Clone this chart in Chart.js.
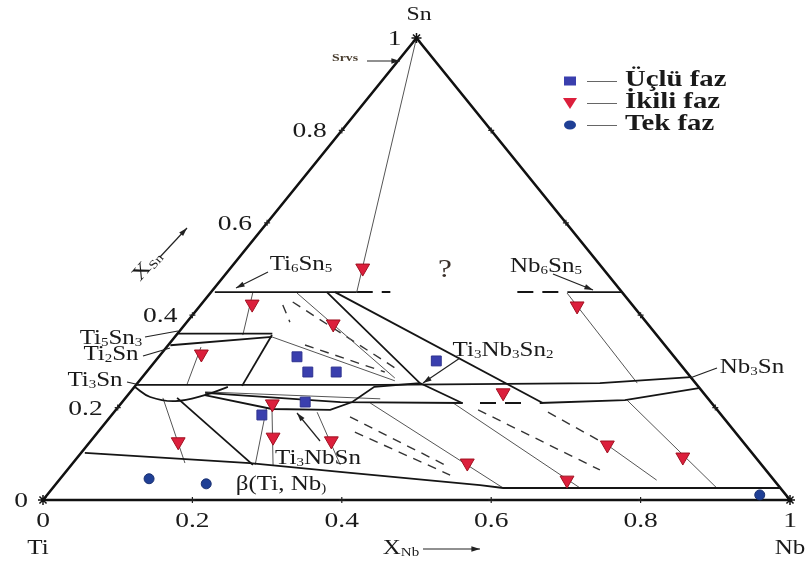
<!DOCTYPE html>
<html>
<head>
<meta charset="utf-8">
<script src="https://cdn.jsdelivr.net/npm/chart.js@4.4.1/dist/chart.umd.min.js"></script>
<style>
  html, body { margin: 0; background: #fff; }
</style>
</head>
<body>
<canvas id="phaseChart" width="808" height="563"></canvas>
<script>
// every point is a composition [xNb, xSn]
const corners = [[0, 0], [1, 0], [0, 1]];
const ternaryPhase = [[0.185, 0.31], [0.216, 0.277], [0.254, 0.277], [0.376, 0.301], [0.245, 0.212], [0.201, 0.184]];
const binaryPhase = [[0.177, 0.502], [0.068, 0.424], [0.198, 0.381], [0.054, 0.316], [0.505, 0.42], [0.50, 0.232],
  [0.203, 0.208], [0.118, 0.126], [0.240, 0.136], [0.322, 0.128], [0.528, 0.080], [0.680, 0.043], [0.696, 0.119], [0.810, 0.093]];
const singlePhase = [[0.119, 0.046], [0.201, 0.035], [0.954, 0.011]];

const boundaryLines = [
  [[0.005, 0.45], [0.195, 0.45]],
  [[0.477, 0.45], [0.55, 0.45]],
  [[0.001, 0.36], [0.127, 0.36]],
  [[0.003, 0.335], [0.13, 0.353]],
  [[0, 0.249], [0.327, 0.249], [0.619, 0.253], [0.734, 0.266]],
  [[0.103, 0.227], [0.208, 0.197], [0.287, 0.195], [0.308, 0.212], [0.321, 0.245], [0.378, 0.253]],
  [[0.101, 0.232], [0.292, 0.212], [0.457, 0.21]],
  [[0.56, 0.21], [0.671, 0.216], [0.757, 0.242]],
  [[0.166, 0.45], [0.564, 0.21]],
  [[0.155, 0.45], [0.378, 0.253], [0.456, 0.21]],
  [[0.005, 0.102], [0.237, 0.08], [0.367, 0.061], [0.569, 0.032], [0.603, 0.026], [0.974, 0.026]],
  [[0.069, 0.221], [0.243, 0.076]],
  [[0.128, 0.357], [0.143, 0.247]]
];
const lensLine = [[0, 0.245], [0.032, 0.223], [0.07, 0.214], [0.103, 0.227], [0.125, 0.245]];

const tieLines = [
  [[0, 1], [0.195, 0.45]],
  [[0.056, 0.45], [0.089, 0.357]],
  [[0.046, 0.331], [0.068, 0.249]],
  [[0.05, 0.221], [0.15, 0.08]],
  [[0.199, 0.201], [0.246, 0.076]],
  [[0.206, 0.201], [0.271, 0.074]],
  [[0.272, 0.19], [0.36, 0.076]],
  [[0.333, 0.21], [0.603, 0.026]],
  [[0.444, 0.21], [0.706, 0.026]],
  [[0.4775, 0.448], [0.669, 0.253]],
  [[0.674, 0.216], [0.889, 0.026]],
  [[0.696, 0.119], [0.80, 0.043]],
  [[0.116, 0.448], [0.339, 0.264]],
  [[0.13, 0.353], [0.342, 0.258]],
  [[0.1, 0.234], [0.342, 0.219]]
];

const dashedBoundaries = [
  [[0.195, 0.45], [0.24, 0.45]],
  [[0.41, 0.45], [0.477, 0.45]],
  [[0.48, 0.21], [0.54, 0.21]]
];
const dashedTies = [
  [[0.12, 0.4286], [0.328, 0.286]],
  [[0.183, 0.3355], [0.319, 0.277]],
  [[0.321, 0.18], [0.5, 0.076]],
  [[0.344, 0.147], [0.518, 0.054]],
  [[0.485, 0.195], [0.713, 0.065]],
  [[0.581, 0.19], [0.696, 0.119]],
  [[0.11, 0.422], [0.138, 0.385]]
];

const axisTicks = [0, 0.2, 0.4, 0.6, 0.8, 1];
const axisLabels = ['0', '0.2', '0.4', '0.6', '0.8', '1'];
const legendNames = ['Üçlü faz', 'İkili faz', 'Tek faz'];

const SERIF = '"Liberation Serif", "Times New Roman", serif';
const tern = p => ({ x: p[0] + p[1] / 2, y: p[1] });

function lineSet(pts, width, color, dash, tension) {
  return {
    data: pts.map(tern),
    showLine: true,
    borderColor: color,
    borderWidth: width,
    borderDash: dash || [],
    tension: tension || 0,
    pointRadius: 0,
    clip: false
  };
}

const datasets = [
  { data: ternaryPhase.map(tern), pointStyle: 'rect', pointRadius: 7, backgroundColor: '#3a3fae', borderColor: '#2e3290', borderWidth: 1, clip: false },
  { data: binaryPhase.map(tern), pointStyle: 'triangle', pointRotation: 180, pointRadius: 8, backgroundColor: '#dc1f3c', borderColor: '#a0101f', borderWidth: 1, clip: false },
  { data: singlePhase.map(tern), pointStyle: 'circle', pointRadius: 5, backgroundColor: '#1f3f95', borderColor: '#1a3070', borderWidth: 1, clip: false },
  { data: corners.map(tern), pointStyle: 'star', pointRadius: 5, borderColor: '#111', borderWidth: 1.5, clip: false },
  {
    data: axisTicks.slice(1, 5).flatMap(t => [[0, t], [1 - t, t], [t, 0]]).map(tern),
    pointStyle: 'cross', pointRadius: 3, borderColor: '#222', borderWidth: 1.2, clip: false
  },
  lineSet(corners.concat([corners[0]]), 2.6, '#111')
];
boundaryLines.forEach(l => datasets.push(lineSet(l, 1.8, '#151515')));
datasets.push(lineSet(lensLine, 1.8, '#151515', null, 0.4));
tieLines.forEach(l => datasets.push(lineSet(l, 1, '#555')));
dashedBoundaries.forEach(l => datasets.push(lineSet(l, 2, '#151515', [16, 9])));
dashedTies.forEach(l => datasets.push(lineSet(l, 1.4, '#333', [9, 7])));

function drawText(ctx, parts, x, y, size, align, opts) {
  opts = opts || {};
  ctx.save();
  ctx.translate(x, y);
  if (opts.rotate) ctx.rotate(opts.rotate);
  ctx.scale(1.25, 1);
  ctx.fillStyle = opts.color || '#1a1a1a';
  ctx.textBaseline = 'alphabetic';
  ctx.textAlign = 'left';
  const weight = opts.bold ? 'bold ' : '';
  let w = 0;
  parts.forEach(p => {
    ctx.font = weight + (p[1] ? Math.round(size * 0.62) : size) + 'px ' + SERIF;
    w += ctx.measureText(p[0]).width;
  });
  let cx = align === 'center' ? -w / 2 : align === 'right' ? -w : 0;
  parts.forEach(p => {
    ctx.font = weight + (p[1] ? Math.round(size * 0.62) : size) + 'px ' + SERIF;
    ctx.fillText(p[0], cx, p[1] ? size * 0.12 : 0);
    cx += ctx.measureText(p[0]).width;
  });
  ctx.restore();
}

function arrow(ctx, x1, y1, x2, y2, head) {
  ctx.save();
  ctx.strokeStyle = '#222';
  ctx.fillStyle = '#222';
  ctx.lineWidth = 1.2;
  ctx.beginPath();
  ctx.moveTo(x1, y1);
  ctx.lineTo(x2, y2);
  ctx.stroke();
  if (head) {
    const a = Math.atan2(y2 - y1, x2 - x1);
    ctx.beginPath();
    ctx.moveTo(x2, y2);
    ctx.lineTo(x2 - 9 * Math.cos(a - 0.3), y2 - 9 * Math.sin(a - 0.3));
    ctx.lineTo(x2 - 9 * Math.cos(a + 0.3), y2 - 9 * Math.sin(a + 0.3));
    ctx.closePath();
    ctx.fill();
  }
  ctx.restore();
}

const annotations = {
  id: 'annotations',
  afterDatasetsDraw(chart) {
    const ctx = chart.ctx;
    const xs = chart.scales.x, ys = chart.scales.y;

    // tick labels along Ti-Sn edge and Ti-Nb edge
    axisTicks.forEach((t, i) => {
      const lx = xs.getPixelForValue(t / 2), ly = ys.getPixelForValue(t);
      drawText(ctx, [[axisLabels[i], 0]], lx - 15, ly + 7, 22, 'right');
      const bx = xs.getPixelForValue(t);
      drawText(ctx, [[axisLabels[i], 0]], bx, 527, 22, 'center');
    });

    drawText(ctx, [['Sn', 0]], 419, 20, 19, 'center');
    drawText(ctx, [['Ti', 0]], 38, 554, 20, 'center');
    drawText(ctx, [['Nb', 0]], 790, 554, 20, 'center');
    drawText(ctx, [['X', 0], ['Nb', 1]], 401, 554, 20, 'center');
    arrow(ctx, 423, 549, 480, 549, true);
    drawText(ctx, [['X', 0], ['Sn', 1]], 140, 282, 20, 'left', { rotate: -0.85 });
    arrow(ctx, 160, 257, 187, 228, true);

    drawText(ctx, [['Srvs', 0]], 345, 61, 11, 'center', { bold: true, color: '#4a3e30' });
    arrow(ctx, 367, 61, 400, 61, true);

    drawText(ctx, [['Ti', 0], ['6', 1], ['Sn', 0], ['5', 1]], 301, 270, 20, 'center');
    arrow(ctx, 268, 272, 236, 288, true);
    drawText(ctx, [['?', 0]], 445, 277, 25, 'center', { color: '#3a302a' });
    drawText(ctx, [['Nb', 0], ['6', 1], ['Sn', 0], ['5', 1]], 546, 272, 20, 'center');
    arrow(ctx, 553, 274, 593, 290, true);

    drawText(ctx, [['Ti', 0], ['5', 1], ['Sn', 0], ['3', 1]], 111, 344, 20, 'center');
    arrow(ctx, 145, 337, 178, 331, false);
    drawText(ctx, [['Ti', 0], ['2', 1], ['Sn', 0]], 111, 360, 20, 'center');
    arrow(ctx, 143, 356, 170, 348, false);
    drawText(ctx, [['Ti', 0], ['3', 1], ['Sn', 0]], 95, 386, 20, 'center');
    arrow(ctx, 127, 382, 140, 385, false);

    drawText(ctx, [['Ti', 0], ['3', 1], ['Nb', 0], ['3', 1], ['Sn', 0], ['2', 1]], 503, 356, 20, 'center');
    arrow(ctx, 460, 358, 423, 383, true);
    drawText(ctx, [['Nb', 0], ['3', 1], ['Sn', 0]], 752, 373, 20, 'center');
    arrow(ctx, 717, 368, 690, 378, false);
    drawText(ctx, [['Ti', 0], ['3', 1], ['Nb', 0], ['Sn', 0]], 318, 464, 20, 'center');
    arrow(ctx, 320, 441, 297, 413, true);
    drawText(ctx, [['β(Ti, Nb', 0], [')', 1]], 281, 490, 20, 'center');

    // legend
    const rows = [86, 108, 130];
    rows.forEach((by, i) => {
      const cy = by - 5;
      ctx.save();
      if (i === 0) {
        ctx.fillStyle = '#3a3fae';
        ctx.fillRect(564, cy - 4.5, 12, 9);
      } else if (i === 1) {
        ctx.fillStyle = '#dc1f3c';
        ctx.beginPath();
        ctx.moveTo(563, cy - 5);
        ctx.lineTo(577, cy - 5);
        ctx.lineTo(570, cy + 6);
        ctx.closePath();
        ctx.fill();
      } else {
        ctx.fillStyle = '#1f3f95';
        ctx.beginPath();
        ctx.ellipse(570, cy, 6, 4.5, 0, 0, Math.PI * 2);
        ctx.fill();
      }
      ctx.strokeStyle = '#666';
      ctx.lineWidth = 1;
      ctx.beginPath();
      ctx.moveTo(587, cy + 0.5);
      ctx.lineTo(617, cy + 0.5);
      ctx.stroke();
      ctx.restore();
      drawText(ctx, [[legendNames[i], 0]], 625, by, 23, 'left', { bold: true });
    });
  }
};

new Chart(document.getElementById('phaseChart').getContext('2d'), {
  type: 'scatter',
  data: { datasets: datasets },
  options: {
    responsive: false,
    animation: false,
    devicePixelRatio: 1,
    layout: { padding: { left: 43, right: 18, top: 38, bottom: 63 } },
    plugins: {
      legend: { display: false },
      tooltip: { enabled: false }
    },
    scales: {
      x: { type: 'linear', min: 0, max: 1, display: false },
      y: { type: 'linear', min: 0, max: 1, display: false }
    }
  },
  plugins: [annotations]
});
</script>
</body>
</html>
